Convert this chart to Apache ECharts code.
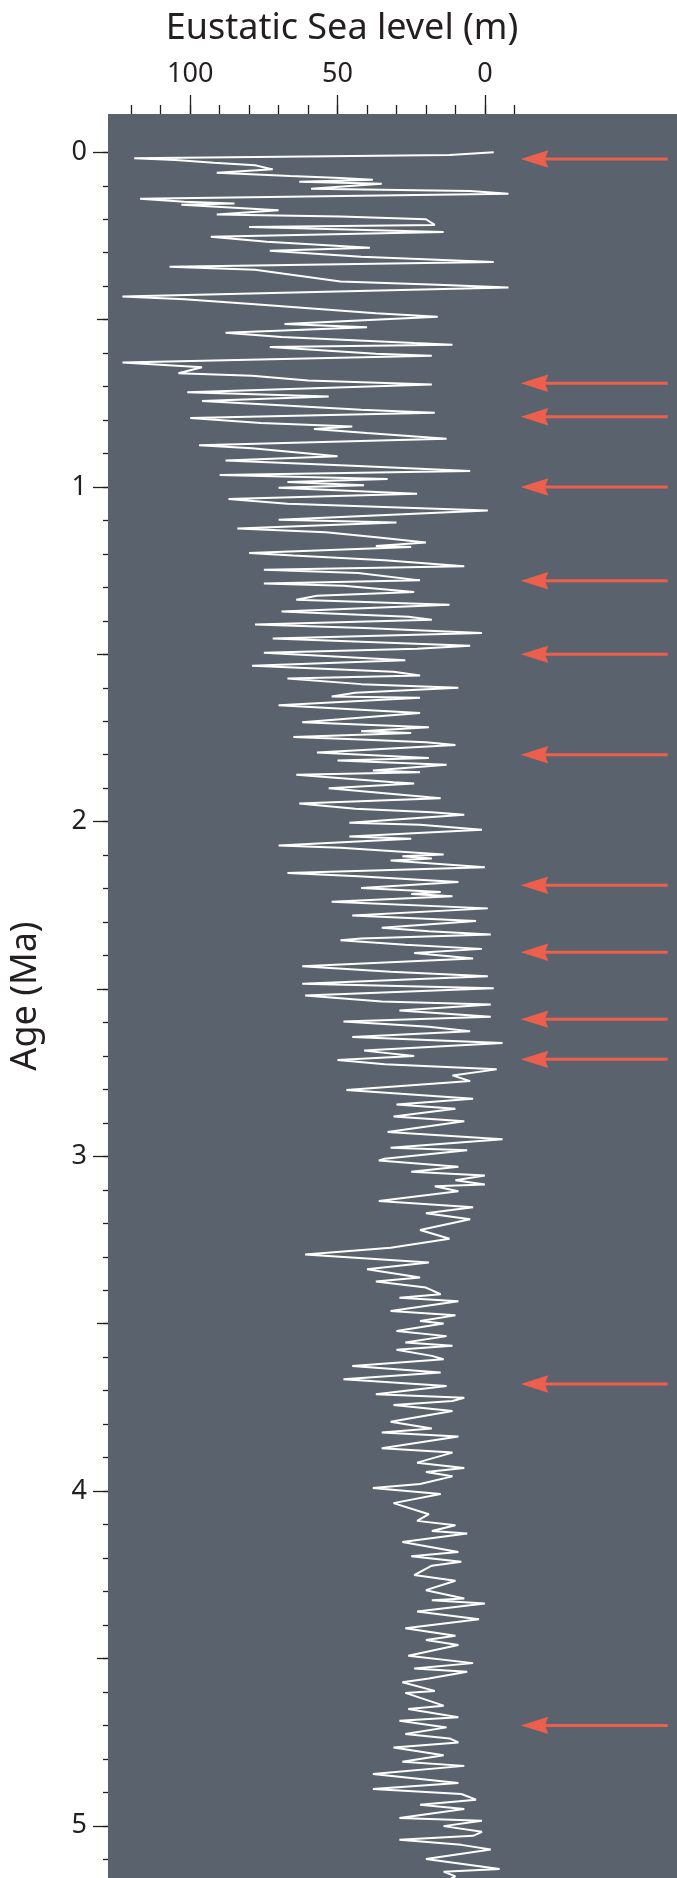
<!DOCTYPE html>
<html>
<head>
<meta charset="utf-8">
<script src="https://cdn.jsdelivr.net/npm/echarts@6/dist/echarts.min.js"></script>
<style>
  html, body { margin: 0; padding: 0; background: #ffffff; }
  #chart { width: 677px; height: 1878px; }
</style>
</head>
<body>
<div id="chart"></div>
<script>
// ---- data (age in Ma, eustatic sea level in m) ----
const ages = [
  0.000, 0.008, 0.018, 0.023, 0.031, 0.039, 0.051, 0.061, 0.071, 0.077, 0.082, 0.088, 0.094, 0.109, 0.116, 0.124,
  0.139, 0.148, 0.153, 0.157, 0.173, 0.186, 0.192, 0.200, 0.217, 0.223, 0.238, 0.252, 0.267, 0.285, 0.294, 0.312,
  0.328, 0.342, 0.351, 0.386, 0.396, 0.404, 0.431, 0.439, 0.454, 0.481, 0.491, 0.513, 0.523, 0.539, 0.552,
  0.570, 0.575, 0.582, 0.602, 0.608, 0.628, 0.642, 0.660, 0.668, 0.682, 0.694, 0.717, 0.730, 0.743, 0.755, 0.769,
  0.778, 0.794, 0.809, 0.819, 0.827, 0.839, 0.856, 0.875, 0.884, 0.908, 0.921, 0.937, 0.952, 0.964, 0.976, 0.985,
  0.995, 1.002, 1.020, 1.036, 1.050, 1.070, 1.098, 1.106, 1.124, 1.135, 1.151,
  1.166, 1.176, 1.179, 1.197, 1.205, 1.219, 1.237, 1.247, 1.257, 1.279, 1.288, 1.295, 1.314, 1.325, 1.337, 1.352,
  1.372, 1.388, 1.397, 1.411, 1.421, 1.436, 1.453, 1.474, 1.483, 1.495, 1.518, 1.534, 1.552, 1.563, 1.572, 1.589,
  1.600, 1.615, 1.626, 1.630, 1.652, 1.675, 1.703, 1.718, 1.730, 1.735, 1.747,
  1.755, 1.763, 1.771, 1.793, 1.810, 1.817, 1.830, 1.847, 1.852, 1.860, 1.882, 1.886, 1.900, 1.930, 1.946, 1.961,
  1.972, 1.979, 2.003, 2.009, 2.024, 2.044, 2.051, 2.071, 2.078, 2.098, 2.103, 2.110, 2.116, 2.136, 2.153, 2.163,
  2.180, 2.198, 2.210, 2.216, 2.223, 2.239, 2.259, 2.280, 2.297, 2.317, 2.327, 2.337, 2.349,
  2.354, 2.368, 2.380, 2.392, 2.409, 2.432, 2.448, 2.462, 2.484, 2.498, 2.519, 2.537, 2.546, 2.564, 2.583, 2.597,
  2.613, 2.626, 2.643, 2.661, 2.684, 2.700, 2.712, 2.725, 2.740, 2.758, 2.775, 2.802, 2.828, 2.845, 2.858, 2.881,
  2.895, 2.927, 2.949, 2.974, 2.982, 3.007,
  3.012, 3.031, 3.046, 3.057, 3.071, 3.084, 3.089, 3.104, 3.133, 3.152, 3.170, 3.188, 3.220, 3.246, 3.273, 3.293,
  3.317, 3.337, 3.362, 3.374, 3.392, 3.412, 3.422, 3.433, 3.462, 3.475, 3.492, 3.499, 3.522, 3.537, 3.556, 3.566,
  3.578, 3.596, 3.606, 3.626, 3.646, 3.666, 3.686, 3.711, 3.721,
  3.731, 3.743, 3.761, 3.793, 3.813, 3.825, 3.837, 3.872, 3.885, 3.915, 3.931, 3.943, 3.956, 3.979, 3.991, 4.009,
  4.036, 4.069, 4.089, 4.102, 4.119, 4.127, 4.152, 4.182, 4.195, 4.211, 4.223, 4.251, 4.268, 4.296, 4.321, 4.326,
  4.336, 4.360, 4.383, 4.410, 4.432,
  4.445, 4.460, 4.492, 4.514, 4.530, 4.540, 4.560, 4.571, 4.597, 4.603, 4.641, 4.651, 4.676, 4.686, 4.706, 4.726,
  4.739, 4.751, 4.766, 4.789, 4.809, 4.821, 4.845, 4.872, 4.890, 4.905, 4.922, 4.937, 4.950, 4.977, 4.985, 5.001,
  5.018, 5.030, 5.042, 5.057, 5.071, 5.099, 5.129, 5.137, 5.151, 5.160
];
const seaLevel = [
  -3, 12, 119, 105, 92, 78, 72, 91, 66, 49, 38, 63, 35, 59, 5, -8,
  117, 102, 85, 103, 70, 91, 49, 20, 17, 80, 14, 93, 74, 39, 73, 42,
  -3, 107, 78, 49, 16, -8, 123, 102, 78, 37, 16, 68, 40, 88, 69,
  24, 11, 73, 37, 18, 123, 96, 104, 79, 60, 18, 101, 53, 96, 71, 42,
  17, 100, 76, 45, 58, 40, 13, 97, 79, 50, 88, 43, 5, 90, 33, 67,
  41, 70, 23, 87, 67, -1, 70, 30, 84, 54, 36,
  20, 37, 25, 80, 65, 34, 7, 75, 43, 22, 75, 48, 24, 57, 64, 12,
  69, 26, 18, 78, 41, 1, 72, 5, 23, 75, 27, 79, 31, 22, 67, 42,
  9, 44, 52, 22, 70, 22, 62, 19, 42, 25, 65,
  40, 20, 10, 57, 19, 50, 13, 38, 22, 64, 31, 24, 53, 15, 63, 44,
  18, 7, 46, 22, 1, 46, 25, 70, 49, 14, 28, 18, 32, 0, 67, 43,
  9, 42, 15, 25, 11, 52, -1, 45, 3, 35, 19, -2, 42,
  49, 27, 1, 24, 4, 62, 32, -1, 62, -3, 61, 35, -2, 29, -2, 48,
  19, 5, 45, -6, 41, 24, 50, 34, -4, 11, 5, 47, 4, 30, 10, 31,
  7, 33, -6, 32, 6, 34,
  36, 9, 25, 0, 10, 0, 17, 9, 36, 4, 20, 5, 22, 12, 32, 61,
  19, 40, 22, 37, 20, 15, 29, 9, 32, 10, 22, 14, 30, 13, 27, 11,
  30, 18, 14, 45, 15, 48, 13, 37, 7,
  11, 31, 11, 32, 18, 35, 9, 35, 11, 23, 7, 20, 11, 22, 38, 15,
  31, 19, 23, 10, 18, 6, 28, 9, 25, 8, 18, 24, 10, 20, 7, 18,
  0, 23, 2, 27, 10,
  20, 9, 26, 4, 24, 6, 19, 28, 17, 27, 14, 26, 9, 29, 13, 27,
  12, 9, 31, 14, 28, 7, 38, 9, 38, 8, 3, 22, 7, 29, 1, 14,
  1, 4, 29, 8, -2, 20, -5, 14, 10, 12
];
// ages (Ma) marked by the red arrows
const arrowAges = [0.02, 0.69, 0.79, 1.00, 1.28, 1.50, 1.80, 2.19, 2.39, 2.59, 2.71, 3.68, 4.70];
// tick labels / tick positions
const xLabelTicks = [100, 50, 0];
const xMinorTicks = [120, 110, 100, 90, 80, 70, 60, 50, 40, 30, 20, 10, 0, -10];
const yLabelTicks = [0, 1, 2, 3, 4, 5];
const yHalfTicks = [0.5, 1.5, 2.5, 3.5, 4.5];
const yMinorTicks = [];
for (let i = 0; i <= 51; i++) yMinorTicks.push(i / 10);

// ---- style constants ----
const FONT = '"Noto Sans", "Open Sans", sans-serif';
const INK = '#231f20';
const PANEL = '#5a636d';
const ARROW = '#ec5f4c';
const X_MIN = -65.2, X_MAX = 127.9;
const Y_MIN = -0.1144, Y_MAX = 5.156;
const ARROW_TIP = -12.15, ARROW_TAIL = -62.05;

const chart = echarts.init(document.getElementById('chart'), null, { renderer: 'canvas' });

const baseX = {
  type: 'value', position: 'top', min: X_MIN, max: X_MAX, inverse: true,
  axisLine: { show: false, onZero: false }, splitLine: { show: false }
};
const baseY = {
  type: 'value', position: 'left', min: Y_MIN, max: Y_MAX, inverse: true,
  axisLine: { show: false, onZero: false }, splitLine: { show: false }
};

const option = {
  animation: false,
  backgroundColor: '#ffffff',
  grid: { left: 108, top: 114, right: 0, bottom: 0, show: true, backgroundColor: PANEL, borderWidth: 0 },
  graphic: [{
    type: 'text', x: 342, y: 29,
    style: { text: 'Eustatic Sea level (m)', fontSize: 36, fontFamily: FONT, fill: INK, align: 'center', verticalAlign: 'middle' }
  }],
  xAxis: [
    Object.assign({}, baseX, {
      axisTick: { show: true, length: 19, customValues: xLabelTicks, lineStyle: { color: INK, width: 1.3 } },
      axisLabel: { show: true, customValues: xLabelTicks, fontSize: 27, fontFamily: FONT, color: INK, margin: 26 }
    }),
    Object.assign({}, baseX, {
      axisTick: { show: true, length: 9, customValues: xMinorTicks, lineStyle: { color: INK, width: 1.3 } },
      axisLabel: { show: false }
    })
  ],
  yAxis: [
    Object.assign({}, baseY, {
      name: 'Age (Ma)', nameLocation: 'middle', nameRotate: 90, nameGap: 64,
      nameTextStyle: { fontSize: 36, fontFamily: FONT, color: INK },
      axisTick: { show: true, length: 15, customValues: yLabelTicks, lineStyle: { color: INK, width: 1.3 } },
      axisLabel: { show: true, customValues: yLabelTicks, fontSize: 27, fontFamily: FONT, color: INK, margin: 21 }
    }),
    Object.assign({}, baseY, {
      axisTick: { show: true, length: 11, customValues: yHalfTicks, lineStyle: { color: INK, width: 1.3 } },
      axisLabel: { show: false }
    }),
    Object.assign({}, baseY, {
      axisTick: { show: true, length: 5, customValues: yMinorTicks, lineStyle: { color: INK, width: 1.3 } },
      axisLabel: { show: false }
    })
  ],
  series: [
    {
      type: 'line',
      xAxisIndex: 0, yAxisIndex: 0,
      data: ages.map((a, i) => [seaLevel[i], a]),
      showSymbol: false, symbol: 'none',
      lineStyle: { color: '#ffffff', width: 2 },
      clip: true
    },
    {
      type: 'custom',
      xAxisIndex: 0, yAxisIndex: 0,
      data: arrowAges.map(a => [ARROW_TIP, a]),
      clip: false,
      renderItem: function (params, api) {
        const age = api.value(1);
        const tip = api.coord([ARROW_TIP, age]);
        const tail = api.coord([ARROW_TAIL, age]);
        const x = tip[0], y = tip[1];
        return {
          type: 'group',
          children: [
            { type: 'line', shape: { x1: x + 24, y1: y, x2: tail[0], y2: y }, style: { stroke: ARROW, lineWidth: 3 } },
            { type: 'polygon', shape: { points: [[x, y], [x + 27.6, y - 8.7], [x + 24.3, y], [x + 27.6, y + 8.7]] }, style: { fill: ARROW } }
          ]
        };
      }
    }
  ]
};
chart.setOption(option);
</script>
</body>
</html>
